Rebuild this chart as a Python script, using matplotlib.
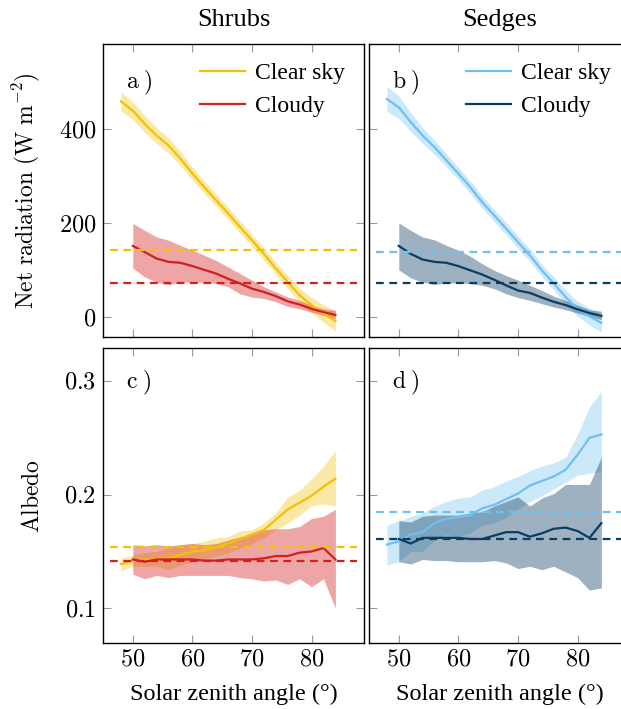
import matplotlib
matplotlib.use("Agg")
import matplotlib.pyplot as plt
from matplotlib.ticker import FuncFormatter

plt.rcParams['font.family'] = ['Liberation Serif', 'DejaVu Serif']
plt.rcParams['mathtext.fontset'] = 'cm'

# solar zenith angle bins
za_clear = [48, 50, 52, 54, 56, 58, 60, 62, 64, 66, 68, 70, 72, 74, 76, 78, 80, 82, 84]
za_cloudy = [50, 52, 54, 56, 58, 60, 62, 64, 66, 68, 70, 72, 74, 76, 78, 80, 82, 84]

# net radiation, shrubs
shrub_net_clear = [460, 440, 412, 387, 366, 338, 306, 277, 249, 221, 192, 164, 135, 104, 75, 47, 26, 8, -8]
shrub_net_clear_hw = [20, 19, 18, 17, 16, 15, 14, 13, 13, 13, 13, 13, 13, 13, 14, 15, 16, 19, 22]
shrub_net_cloudy = [152, 139, 125, 118, 116, 109, 101, 93, 82, 72, 61, 54, 45, 34, 27, 18, 11, 5]
shrub_net_cloudy_hi = [200, 185, 171, 164, 153, 143, 132, 121, 107, 93, 79, 65, 54, 43, 36, 26, 18, 15]
shrub_net_cloudy_lo = [105, 86, 75, 69, 75, 75, 75, 72, 65, 50, 43, 40, 33, 23, 18, 11, 4, -3]
shrub_net_means = [143, 74]

# net radiation, sedges
sedge_net_clear = [465, 447, 416, 387, 362, 334, 306, 277, 245, 217, 189, 160, 132, 100, 72, 43, 18, 2, -12]
sedge_net_clear_hw = [27, 24, 20, 17, 15, 14, 13, 13, 13, 13, 13, 13, 13, 13, 14, 15, 16, 18, 20]
sedge_net_cloudy = [152, 135, 123, 118, 116, 109, 100, 91, 80, 68, 57, 52, 42, 33, 26, 17, 9, 3]
sedge_net_cloudy_hi = [201, 185, 171, 165, 153, 143, 130, 114, 100, 89, 79, 68, 57, 45, 36, 26, 16, 13]
sedge_net_cloudy_lo = [101, 84, 75, 70, 73, 73, 72, 68, 61, 50, 42, 36, 29, 22, 16, 9, 2, -5]
sedge_net_means = [139, 73]

# albedo, shrubs
shrub_alb_clear = [0.139, 0.142, 0.143, 0.143, 0.144, 0.147, 0.150, 0.151, 0.154, 0.157,
                   0.161, 0.165, 0.169, 0.178, 0.187, 0.193, 0.199, 0.207, 0.214]
shrub_alb_clear_hi = [0.144, 0.147, 0.149, 0.150, 0.153, 0.156, 0.157, 0.159, 0.162, 0.163,
                      0.168, 0.169, 0.175, 0.184, 0.198, 0.204, 0.214, 0.225, 0.239]
shrub_alb_clear_lo = [0.133, 0.137, 0.137, 0.137, 0.134, 0.138, 0.141, 0.144, 0.146, 0.149,
                      0.153, 0.157, 0.162, 0.169, 0.175, 0.182, 0.190, 0.192, 0.190]
shrub_alb_cloudy = [0.143, 0.141, 0.143, 0.143, 0.143, 0.143, 0.142, 0.142, 0.143, 0.143,
                    0.143, 0.144, 0.146, 0.146, 0.149, 0.150, 0.153, 0.143]
shrub_alb_cloudy_hi = [0.156, 0.155, 0.156, 0.155, 0.156, 0.157, 0.156, 0.157, 0.160, 0.163,
                       0.165, 0.169, 0.170, 0.170, 0.172, 0.179, 0.181, 0.187]
shrub_alb_cloudy_lo = [0.130, 0.126, 0.129, 0.127, 0.129, 0.129, 0.129, 0.129, 0.129, 0.127,
                       0.126, 0.124, 0.125, 0.121, 0.126, 0.119, 0.126, 0.100]
shrub_alb_means = [0.154, 0.142]

# albedo, sedges
sedge_alb_clear = [0.156, 0.159, 0.165, 0.167, 0.175, 0.179, 0.180, 0.182, 0.188, 0.191,
                   0.196, 0.201, 0.208, 0.212, 0.216, 0.222, 0.235, 0.250, 0.253]
sedge_alb_clear_hi = [0.173, 0.177, 0.181, 0.184, 0.190, 0.194, 0.197, 0.198, 0.204, 0.207,
                      0.212, 0.216, 0.221, 0.225, 0.228, 0.233, 0.253, 0.277, 0.291]
sedge_alb_clear_lo = [0.138, 0.141, 0.150, 0.150, 0.160, 0.165, 0.163, 0.166, 0.173, 0.175,
                      0.180, 0.187, 0.194, 0.199, 0.205, 0.211, 0.217, 0.219, 0.220]
sedge_alb_cloudy = [0.161, 0.157, 0.162, 0.162, 0.162, 0.162, 0.161, 0.161, 0.164, 0.167,
                    0.167, 0.163, 0.166, 0.170, 0.171, 0.168, 0.162, 0.175]
sedge_alb_cloudy_hi = [0.177, 0.176, 0.181, 0.182, 0.182, 0.182, 0.184, 0.185, 0.190, 0.194,
                       0.198, 0.190, 0.197, 0.201, 0.209, 0.209, 0.209, 0.233]
sedge_alb_cloudy_lo = [0.141, 0.139, 0.143, 0.142, 0.142, 0.141, 0.141, 0.141, 0.142, 0.140,
                       0.135, 0.137, 0.134, 0.137, 0.132, 0.127, 0.116, 0.118]
sedge_alb_means = [0.185, 0.161]

shrub_colors = ['#f2c200', '#d21f1f']
sedge_colors = ['#6ec0f2', '#0b3d62']


def panel(ax, clear, clear_lo, clear_hi, cloudy, cloudy_lo, cloudy_hi, means, colors):
    ax.fill_between(za_clear, clear_lo, clear_hi, color=colors[0], alpha=0.35, lw=0)
    ax.plot(za_clear, clear, color=colors[0], lw=1.6, label='Clear sky')
    ax.fill_between(za_cloudy, cloudy_lo, cloudy_hi, color=colors[1], alpha=0.4, lw=0)
    ax.plot(za_cloudy, cloudy, color=colors[1], lw=1.6, label='Cloudy')
    for m, c in zip(means, colors):
        ax.axhline(m, xmin=0.025, xmax=0.975, color=c, lw=1.6, ls=(0, (3.5, 2.5)))


def style(ax):
    ax.set_xlim(45, 88.8)
    ax.set_xticks([50, 60, 70, 80])
    ax.tick_params(direction='in', top=True, right=True, length=6, width=0.8,
                   color='#999999', labelsize=17.5, pad=5)
    for s in ax.spines.values():
        s.set_linewidth(1.0)
    ax.xaxis.set_major_formatter(FuncFormatter(lambda v, p: f'${v:g}$'))
    ax.yaxis.set_major_formatter(FuncFormatter(lambda v, p: f'${v:g}$'))


fig = plt.figure(figsize=(6.21, 7.09), dpi=100)
W, H = 621, 709
ax_a = fig.add_axes([103 / W, (H - 337) / H, 261 / W, 293 / H])
ax_b = fig.add_axes([369 / W, (H - 337) / H, 261 / W, 293 / H])
ax_c = fig.add_axes([103 / W, (H - 643) / H, 261 / W, 295 / H])
ax_d = fig.add_axes([369 / W, (H - 643) / H, 261 / W, 295 / H])

panel(ax_a, shrub_net_clear,
      [m - h for m, h in zip(shrub_net_clear, shrub_net_clear_hw)],
      [m + h for m, h in zip(shrub_net_clear, shrub_net_clear_hw)],
      shrub_net_cloudy, shrub_net_cloudy_lo, shrub_net_cloudy_hi, shrub_net_means, shrub_colors)
panel(ax_b, sedge_net_clear,
      [m - h for m, h in zip(sedge_net_clear, sedge_net_clear_hw)],
      [m + h for m, h in zip(sedge_net_clear, sedge_net_clear_hw)],
      sedge_net_cloudy, sedge_net_cloudy_lo, sedge_net_cloudy_hi, sedge_net_means, sedge_colors)
panel(ax_c, shrub_alb_clear, shrub_alb_clear_lo, shrub_alb_clear_hi,
      shrub_alb_cloudy, shrub_alb_cloudy_lo, shrub_alb_cloudy_hi, shrub_alb_means, shrub_colors)
panel(ax_d, sedge_alb_clear, sedge_alb_clear_lo, sedge_alb_clear_hi,
      sedge_alb_cloudy, sedge_alb_cloudy_lo, sedge_alb_cloudy_hi, sedge_alb_means, sedge_colors)

for ax in (ax_a, ax_b):
    style(ax)
    ax.set_ylim(-42, 582)
    ax.set_yticks([0, 200, 400])
    ax.tick_params(labelbottom=False)
    ax.legend(loc='upper right', bbox_to_anchor=(1.01, 1.01), frameon=False, fontsize=17,
              handlelength=1.9, handletextpad=0.45, labelspacing=0.5)
for ax in (ax_c, ax_d):
    style(ax)
    ax.set_ylim(0.0695, 0.329)
    ax.set_yticks([0.1, 0.2, 0.3])
    ax.set_xlabel('Solar zenith angle (°)', fontsize=17.5, family='Liberation Serif')
    ax.xaxis.set_label_coords(0.5, -0.14)
for ax in (ax_b, ax_d):
    ax.tick_params(labelleft=False)

ax_a.set_title('Shrubs', fontsize=19, pad=13, family='Liberation Serif')
ax_b.set_title('Sedges', fontsize=19, pad=13, family='Liberation Serif')
ax_a.set_ylabel(r'$\mathrm{Net\ radiation\ (W\ m^{-2})}$', fontsize=17)
ax_a.yaxis.set_label_coords(-0.235, 0.5)
ax_c.set_ylabel(r'$\mathrm{Albedo}$', fontsize=17)
ax_c.yaxis.set_label_coords(-0.225, 0.5)

for ax, lab, yy in ((ax_a, 'a', 0.867), (ax_b, 'b', 0.867), (ax_c, 'c', 0.88), (ax_d, 'd', 0.88)):
    ax.text(0.09, yy, r'$\mathrm{' + lab + r'}\;)$', transform=ax.transAxes,
            fontsize=17, va='center', ha='left')

fig.savefig('out.png', dpi=100)
